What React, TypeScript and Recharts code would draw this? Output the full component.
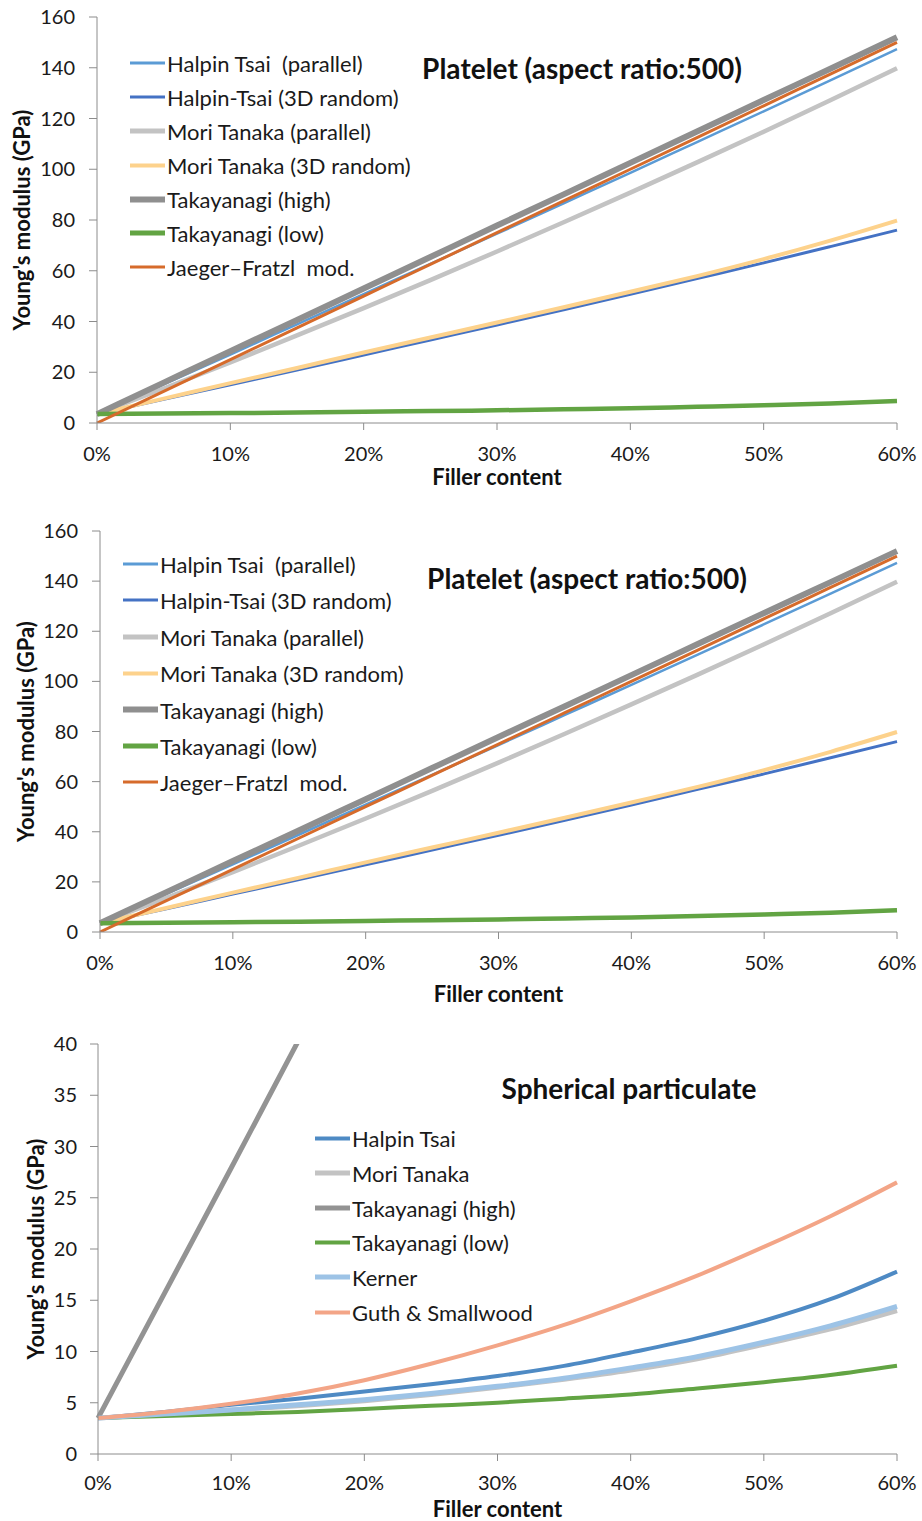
import React from 'react';
import { LineChart, Line, XAxis, YAxis } from 'recharts';

// ---------- data ----------
const fillerContent = [0, 0.05, 0.1, 0.15, 0.2, 0.25, 0.3, 0.35, 0.4, 0.45, 0.5, 0.55, 0.6];
const xTicks = [0, 0.1, 0.2, 0.3, 0.4, 0.5, 0.6];
const plateletYTicks = [0, 20, 40, 60, 80, 100, 120, 140, 160];
const sphereYTicks = [0, 5, 10, 15, 20, 25, 30, 35, 40];

const plateletTitle = 'Platelet (aspect ratio:500)';
const sphereTitle = 'Spherical particulate';
const xLabel = 'Filler content';
const yLabel = "Young's modulus (GPa)";

// platelet (aspect ratio 500)
const pHalpinParallel = [3.5, 15.2, 27.0, 38.9, 50.8, 62.7, 74.6, 86.6, 98.6, 110.7, 122.8, 135.0, 147.3];
const pHalpin3D = [3.5, 9.3, 15.1, 20.9, 26.8, 32.7, 38.6, 44.6, 50.7, 56.9, 63.1, 69.5, 76.0];
const pMoriParallel = [3.5, 13.6, 23.9, 34.5, 45.3, 56.3, 67.6, 79.1, 90.8, 102.7, 114.8, 127.2, 139.8];
const pMori3D = [3.5, 9.6, 15.7, 21.7, 27.8, 33.7, 39.6, 45.6, 51.7, 57.9, 64.6, 71.9, 79.8];
const pTakaHigh = [3.5, 15.9, 28.3, 40.6, 53.0, 65.4, 77.8, 90.1, 102.5, 114.9, 127.3, 139.6, 152.0];
const pTakaLow = [3.5, 3.7, 3.9, 4.1, 4.4, 4.7, 5.0, 5.4, 5.8, 6.4, 7.0, 7.7, 8.7];
const pJaegerFratzl = [0, 12.5, 25.0, 37.5, 50.0, 62.5, 75.0, 87.5, 100.0, 112.5, 125.0, 137.5, 150.0];

// spherical particulate
const sHalpin = [3.5, 4.1, 4.8, 5.4, 6.1, 6.8, 7.6, 8.6, 9.9, 11.3, 13.0, 15.1, 17.8];
const sMori = [3.5, 3.9, 4.3, 4.7, 5.2, 5.8, 6.5, 7.3, 8.2, 9.3, 10.7, 12.2, 14.0];
const sTakaHigh = [3.5, 15.7, 27.9, 40.2, 52.4, 64.6, 76.8, 89.1, 101.3, 113.5, 125.7, 138.0, 150.2];
const sTakaLow = [3.5, 3.7, 3.9, 4.1, 4.4, 4.7, 5.0, 5.4, 5.8, 6.4, 7.0, 7.7, 8.6];
const sKerner = [3.5, 3.9, 4.3, 4.8, 5.3, 5.9, 6.6, 7.4, 8.4, 9.5, 10.9, 12.5, 14.4];
const sGuth = [3.5, 4.1, 4.9, 5.9, 7.2, 8.8, 10.6, 12.6, 14.9, 17.4, 20.2, 23.2, 26.5];

type Series = { key: string; name: string; color: string; width: number; values: number[] };

const plateletSeries: Series[] = [
  { key: 'htp', name: 'Halpin Tsai\u00a0\u00a0(parallel)', color: '#5b9bd5', width: 2.5, values: pHalpinParallel },
  { key: 'ht3', name: 'Halpin-Tsai (3D random)', color: '#4472c4', width: 3, values: pHalpin3D },
  { key: 'mtp', name: 'Mori Tanaka (parallel)', color: '#c3c3c3', width: 4.5, values: pMoriParallel },
  { key: 'mt3', name: 'Mori Tanaka (3D random)', color: '#fdd28c', width: 4, values: pMori3D },
  { key: 'tkh', name: 'Takayanagi (high)', color: '#8f8f8f', width: 6, values: pTakaHigh },
  { key: 'tkl', name: 'Takayanagi (low)', color: '#62a443', width: 4.5, values: pTakaLow },
  { key: 'jf', name: 'Jaeger\u2013Fratzl\u00a0 mod.', color: '#d66b2b', width: 3, values: pJaegerFratzl },
];

const sphereSeries: Series[] = [
  { key: 'ht', name: 'Halpin Tsai', color: '#4e8ac4', width: 4, values: sHalpin },
  { key: 'mt', name: 'Mori Tanaka', color: '#c3c3c3', width: 5, values: sMori },
  { key: 'tkh', name: 'Takayanagi (high)', color: '#939393', width: 5, values: sTakaHigh },
  { key: 'tkl', name: 'Takayanagi (low)', color: '#62a443', width: 4, values: sTakaLow },
  { key: 'ke', name: 'Kerner', color: '#9dc3e6', width: 5, values: sKerner },
  { key: 'gs', name: 'Guth & Smallwood', color: '#f3a587', width: 4, values: sGuth },
];

const buildRows = (series: Series[]) =>
  fillerContent.map((x, i) => {
    const row: Record<string, number> = { x };
    series.forEach((s) => (row[s.key] = s.values[i]));
    return row;
  });

const FONT = 'Lato, "Liberation Sans", sans-serif';
const AXIS = '#8c8c8c';

type PanelProps = {
  top: number;
  height: number;
  plotTop: number;
  plotBottom: number;
  plotLeft: number;
  plotRight: number;
  xAxisHeight: number;
  xLabelOffset: number;
  xTickMargin: number;
  yLabelX: number;
  yMax: number;
  yTicks: number[];
  series: Series[];
  title: string;
  titleX: number;
  titleY: number;
  titleSize: number;
  legendLeft: number;
  legendTop: number;
  legendGap: number;
  legendSize: number;
  yTickMargin: number;
};

function Panel(p: PanelProps) {
  const rows = buildRows(p.series);
  const width = 922;
  const margin = {
    top: p.plotTop,
    right: width - p.plotRight,
    left: 0,
    bottom: p.height - p.plotBottom - p.xAxisHeight,
  };
  const tickStyle = { fontFamily: FONT, fontSize: 20, fill: '#1a1a1a' };
  return (
    <div style={{ position: 'absolute', left: 0, top: p.top, width, height: p.height }}>
      <LineChart width={width} height={p.height} data={rows} margin={margin}>
        <XAxis
          xAxisId="b"
          dataKey="x"
          type="number"
          domain={[0, 0.6]}
          ticks={xTicks}
          tickFormatter={(v: number) => `${Math.round(v * 100)}%`}
          height={p.xAxisHeight}
          tickSize={7}
          tickMargin={p.xTickMargin}
          axisLine={{ stroke: AXIS }}
          tickLine={{ stroke: AXIS }}
          tick={tickStyle}
          label={{
            value: xLabel,
            position: 'insideBottom',
            offset: p.xLabelOffset,
            style: { fontFamily: FONT, fontSize: 22, fontWeight: 700, fill: '#111' },
          }}
        />
        <XAxis
          xAxisId="t"
          dataKey="x"
          type="number"
          orientation="top"
          domain={[0, 0.6]}
          height={0}
          tick={false}
          tickLine={false}
          axisLine={{ stroke: AXIS }}
        />
        <YAxis
          yAxisId="l"
          type="number"
          domain={[0, p.yMax]}
          allowDataOverflow
          ticks={p.yTicks}
          width={p.plotLeft}
          tickSize={8}
          tickMargin={p.yTickMargin}
          axisLine={{ stroke: AXIS }}
          tickLine={{ stroke: AXIS }}
          tick={tickStyle}
          label={{
            value: yLabel,
            angle: -90,
            position: 'insideLeft',
            offset: p.yLabelX,
            style: { textAnchor: 'middle', fontFamily: FONT, fontSize: 22, fontWeight: 700, fill: '#111' },
          }}
        />
        <YAxis
          yAxisId="r"
          type="number"
          orientation="right"
          domain={[0, p.yMax]}
          width={0}
          tick={false}
          tickLine={false}
          axisLine={{ stroke: AXIS }}
        />
        {p.series.map((s) => (
          <Line
            key={s.key}
            xAxisId="b"
            yAxisId="l"
            dataKey={s.key}
            name={s.name}
            type="monotone"
            stroke={s.color}
            strokeWidth={s.width}
            dot={false}
            activeDot={false}
            isAnimationActive={false}
          />
        ))}
      </LineChart>
      <div
        style={{
          position: 'absolute',
          left: p.titleX,
          top: p.titleY,
          transform: 'translate(-50%, -50%)',
          fontFamily: FONT,
          fontWeight: 700,
          fontSize: p.titleSize,
          color: '#111',
          whiteSpace: 'nowrap',
        }}
      >
        {p.title}
      </div>
      {p.series.map((s, i) => (
        <div
          key={s.key}
          style={{
            position: 'absolute',
            left: p.legendLeft,
            top: p.legendTop + i * p.legendGap,
            transform: 'translateY(-50%)',
            display: 'flex',
            alignItems: 'center',
            fontFamily: FONT,
            fontSize: p.legendSize,
            color: '#1a1a1a',
            whiteSpace: 'nowrap',
          }}
        >
          <span style={{ display: 'inline-block', width: 35, height: s.width, background: s.color, marginRight: 2 }} />
          <span>{s.name}</span>
        </div>
      ))}
    </div>
  );
}

export default function App() {
  return (
    <div style={{ position: 'absolute', left: 0, top: 0, width: 922, height: 1521, background: '#fff' }}>
      <Panel
        top={0}
        height={505}
        plotTop={17}
        plotBottom={423}
        plotLeft={97}
        plotRight={897}
        xAxisHeight={70}
        xLabelOffset={8}
        xTickMargin={17}
        yLabelX={22}
        yMax={160}
        yTicks={plateletYTicks}
        series={plateletSeries}
        title={plateletTitle}
        titleX={582}
        titleY={68}
        titleSize={28}
        legendLeft={130}
        legendTop={63}
        legendGap={34}
        legendSize={22}
        yTickMargin={14}
      />
      <Panel
        top={505}
        height={515}
        plotTop={26}
        plotBottom={427}
        plotLeft={100}
        plotRight={897}
        xAxisHeight={80}
        xLabelOffset={10}
        xTickMargin={17}
        yLabelX={26}
        yMax={160}
        yTicks={plateletYTicks}
        series={plateletSeries}
        title={plateletTitle}
        titleX={587}
        titleY={73}
        titleSize={28}
        legendLeft={123}
        legendTop={59}
        legendGap={36.4}
        legendSize={22}
        yTickMargin={14}
      />
      <Panel
        top={1020}
        height={501}
        plotTop={24}
        plotBottom={434}
        plotLeft={98}
        plotRight={897}
        xAxisHeight={67}
        xLabelOffset={4}
        xTickMargin={15}
        yLabelX={36}
        yMax={40}
        yTicks={sphereYTicks}
        series={sphereSeries}
        title={sphereTitle}
        titleX={629}
        titleY={68}
        titleSize={28}
        legendLeft={315}
        legendTop={118}
        legendGap={34.8}
        legendSize={22}
        yTickMargin={13}
      />
    </div>
  );
}
